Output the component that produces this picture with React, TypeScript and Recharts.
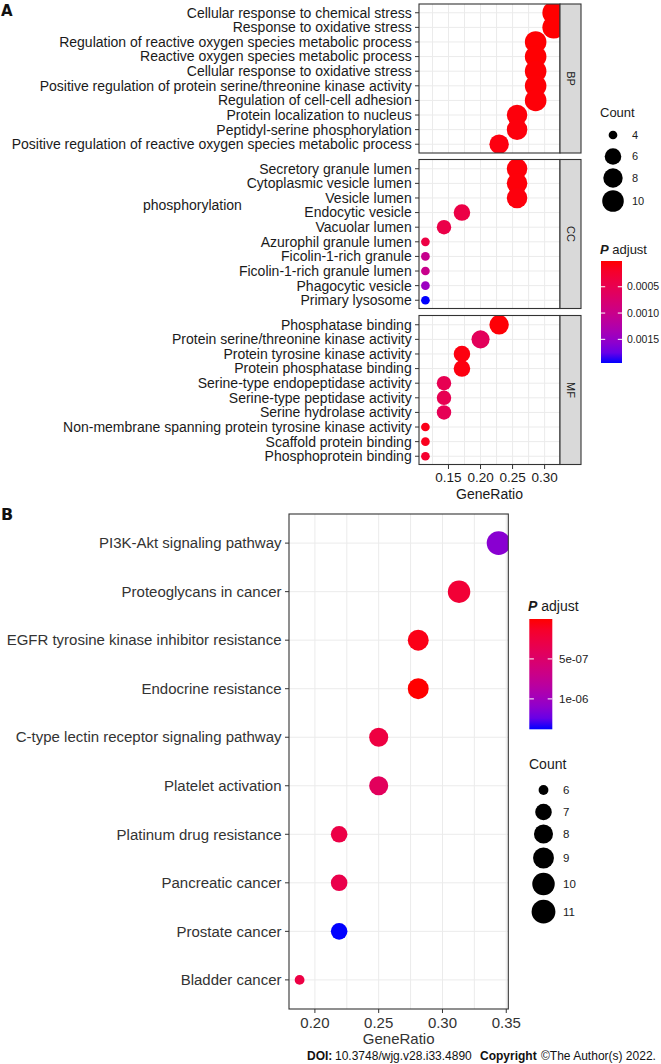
import { CartesianGrid, Scatter, ScatterChart, XAxis, YAxis } from "recharts";

const FONT = '"Liberation Sans", Arial, sans-serif';
const BOLD_FONT = '"DejaVu Sans", Verdana, sans-serif';

// ---------- Panel A: GO enrichment ----------
const bpTerms = [
  "Cellular response to chemical stress",
  "Response to oxidative stress",
  "Regulation of reactive oxygen species metabolic process",
  "Reactive oxygen species metabolic process",
  "Cellular response to oxidative stress",
  "Positive regulation of protein serine/threonine kinase activity",
  "Regulation of cell-cell adhesion",
  "Protein localization to nucleus",
  "Peptidyl-serine phosphorylation",
  "Positive regulation of reactive oxygen species metabolic process",
];
const bpRatio = [0.314, 0.314, 0.286, 0.286, 0.286, 0.286, 0.286, 0.257, 0.257, 0.229];
const bpCount = [11, 11, 10, 10, 10, 10, 10, 9, 9, 8];
const bpPadj = [1.0e-5, 1.2e-5, 2.0e-5, 2.0e-5, 2.5e-5, 3.0e-5, 3.5e-5, 4.5e-5, 5.0e-5, 6.0e-5];

const ccTerms = [
  "Secretory granule lumen",
  "Cytoplasmic vesicle lumen",
  "Vesicle lumen",
  "Endocytic vesicle",
  "Vacuolar lumen",
  "Azurophil granule lumen",
  "Ficolin-1-rich granule",
  "Ficolin-1-rich granule lumen",
  "Phagocytic vesicle",
  "Primary lysosome",
];
const ccRatio = [0.257, 0.257, 0.257, 0.171, 0.143, 0.114, 0.114, 0.114, 0.114, 0.114];
const ccCount = [9, 9, 9, 6, 5, 4, 4, 4, 4, 4];
const ccPadj = [4.0e-5, 4.0e-5, 5.0e-5, 4.2e-4, 4.4e-4, 4.0e-4, 1.02e-3, 1.0e-3, 1.45e-3, 1.95e-3];

const mfTerms = [
  "Phosphatase binding",
  "Protein serine/threonine kinase activity",
  "Protein tyrosine kinase activity",
  "Protein phosphatase binding",
  "Serine-type endopeptidase activity",
  "Serine-type peptidase activity",
  "Serine hydrolase activity",
  "Non-membrane spanning protein tyrosine kinase activity",
  "Scaffold protein binding",
  "Phosphoprotein binding",
];
const mfRatio = [0.229, 0.2, 0.171, 0.171, 0.143, 0.143, 0.143, 0.114, 0.114, 0.114];
const mfCount = [8, 7, 6, 6, 5, 5, 5, 4, 4, 4];
const mfPadj = [3.0e-5, 5.8e-4, 6.0e-5, 6.0e-5, 5.2e-4, 5.2e-4, 5.4e-4, 1.0e-4, 1.3e-4, 2.4e-4];

const goFacetNames = ["BP", "CC", "MF"];
const goXTicks = [0.15, 0.2, 0.25, 0.3];
const goXGrid = [0.125, 0.15, 0.175, 0.2, 0.225, 0.25, 0.275, 0.3];
const goCountBreaks = [4, 6, 8, 10];
const goPadjBreaks = [0.0005, 0.001, 0.0015];
const goPadjLabels = ["0.0005", "0.0010", "0.0015"];

// ---------- Panel B: KEGG enrichment ----------
const keggTerms = [
  "PI3K-Akt signaling pathway",
  "Proteoglycans in cancer",
  "EGFR tyrosine kinase inhibitor resistance",
  "Endocrine resistance",
  "C-type lectin receptor signaling pathway",
  "Platelet activation",
  "Platinum drug resistance",
  "Pancreatic cancer",
  "Prostate cancer",
  "Bladder cancer",
];
const keggRatio = [0.344, 0.313, 0.281, 0.281, 0.25, 0.25, 0.219, 0.219, 0.219, 0.188];
const keggCount = [11, 10, 9, 9, 8, 8, 7, 7, 7, 6];
const keggPadj = [1.12e-6, 2.0e-7, 6.0e-8, 1.0e-9, 2.6e-7, 4.2e-7, 2.9e-7, 3.2e-7, 1.38e-6, 2.8e-7];

const keggXTicks = [0.2, 0.25, 0.3, 0.35];
const keggXGrid = [0.2, 0.225, 0.25, 0.275, 0.3, 0.325, 0.35];
const keggCountBreaks = [6, 7, 8, 9, 10, 11];
const keggPadjBreaks = [5e-7, 1e-6];
const keggPadjLabels = ["5e-07", "1e-06"];

// ---------- layout ----------
const GO_LEFT = 419;
const GO_RIGHT = 560;
const GO_TOPS = [4, 159.5, 315.5];
const GO_H = 149;
const GO_DOMAIN: [number, number] = [0.104, 0.324];

const KG_LEFT = 289;
const KG_RIGHT = 508.3;
const KG_TOP = 514;
const KG_H = 495;
const KG_DOMAIN: [number, number] = [0.1797, 0.3516];

// ---------- scales ----------
type Lab = [number, number, number];

function toLab(r: number, g: number, b: number): Lab {
  const lin = (c: number) => {
    c /= 255;
    return c <= 0.04045 ? c / 12.92 : Math.pow((c + 0.055) / 1.055, 2.4);
  };
  const R = lin(r), G = lin(g), B = lin(b);
  const x = (0.4124 * R + 0.3576 * G + 0.1805 * B) / 0.95047;
  const y = 0.2126 * R + 0.7152 * G + 0.0722 * B;
  const z = (0.0193 * R + 0.1192 * G + 0.9505 * B) / 1.08883;
  const f = (t: number) => (t > 0.008856 ? Math.cbrt(t) : 7.787 * t + 16 / 116);
  return [116 * f(y) - 16, 500 * (f(x) - f(y)), 200 * (f(y) - f(z))];
}

function fromLab([L, a, bb]: Lab) {
  const fy = (L + 16) / 116;
  const fx = fy + a / 500;
  const fz = fy - bb / 200;
  const inv = (t: number) => (t * t * t > 0.008856 ? t * t * t : (t - 16 / 116) / 7.787);
  const x = inv(fx) * 0.95047, y = inv(fy), z = inv(fz) * 1.08883;
  const R = 3.2406 * x - 1.5372 * y - 0.4986 * z;
  const G = -0.9689 * x + 1.8758 * y + 0.0415 * z;
  const B = 0.0557 * x - 0.204 * y + 1.057 * z;
  const g = (c: number) => {
    c = Math.min(1, Math.max(0, c));
    const v = c <= 0.0031308 ? 12.92 * c : 1.055 * Math.pow(c, 1 / 2.4) - 0.055;
    return Math.round(v * 255);
  };
  return `rgb(${g(R)},${g(G)},${g(B)})`;
}

const RED = toLab(255, 0, 0);
const BLUE = toLab(0, 0, 255);

function gradientAt(t: number) {
  const k = Math.min(1, Math.max(0, t));
  return fromLab([
    RED[0] + (BLUE[0] - RED[0]) * k,
    RED[1] + (BLUE[1] - RED[1]) * k,
    RED[2] + (BLUE[2] - RED[2]) * k,
  ]);
}

const goPadjAll = [...bpPadj, ...ccPadj, ...mfPadj];
const GO_P: [number, number] = [Math.min(...goPadjAll), Math.max(...goPadjAll)];
const KG_P: [number, number] = [Math.min(...keggPadj), Math.max(...keggPadj)];

const goColor = (p: number) => gradientAt((p - GO_P[0]) / (GO_P[1] - GO_P[0]));
const kgColor = (p: number) => gradientAt((p - KG_P[0]) / (KG_P[1] - KG_P[0]));

function diameter(c: number, lo: number, hi: number, dMin: number, dMax: number) {
  const t = (c - lo) / (hi - lo);
  return dMin + (dMax - dMin) * Math.pow(Math.max(0, t), 0.45);
}
const goDiam = (c: number) => diameter(c, 4, 11, 8.7, 22.5);
const kgDiam = (c: number) => diameter(c, 6, 11, 9.8, 23.8);

// ---------- chart pieces ----------
type Dot = { term: string; idx: number; ratio: number; count: number; padj: number };

function makeDots(terms: string[], ratio: number[], count: number[], padj: number[]): Dot[] {
  return terms.map((term, idx) => ({ term, idx, ratio: ratio[idx], count: count[idx], padj: padj[idx] }));
}

type PanelProps = {
  dots: Dot[];
  top: number;
  left: number;
  right: number;
  height: number;
  domain: [number, number];
  ticks: number[];
  grid: number[];
  axis?: { height: number; fontSize: number; margin: number; color: string };
  labelSize: number;
  labelColor: string;
  labelMargin: number;
  diam: (c: number) => number;
  color: (p: number) => string;
};

const EXTRA_RIGHT = 30;

function DotPanel(p: PanelProps) {
  const n = p.dots.length;
  const idx = p.dots.map((d) => d.idx);
  const bottom = p.axis ? p.axis.height : 1;
  return (
    <div style={{ position: "absolute", left: 0, top: p.top - 1 }}>
      <ScatterChart
        width={p.right + EXTRA_RIGHT}
        height={p.height + 1 + bottom}
        margin={{ top: 1, right: EXTRA_RIGHT, bottom: p.axis ? 0 : 1, left: 0 }}
      >
        <CartesianGrid stroke="#ebebeb" verticalValues={p.grid} horizontalValues={idx} />
        <XAxis
          type="number"
          dataKey="ratio"
          domain={p.domain}
          allowDataOverflow
          ticks={p.ticks}
          interval={0}
          hide={!p.axis}
          height={p.axis ? p.axis.height : 0}
          axisLine={false}
          tickSize={4}
          tickMargin={p.axis ? p.axis.margin : 2}
          tickLine={{ stroke: "#333333" }}
          tick={{
            fill: p.axis ? p.axis.color : "#333",
            fontSize: p.axis ? p.axis.fontSize : 12,
            fontFamily: FONT,
          }}
          tickFormatter={(v: number) => v.toFixed(2)}
        />
        <YAxis
          type="number"
          dataKey="idx"
          domain={[-0.6, n - 0.4]}
          allowDataOverflow
          reversed
          ticks={idx}
          interval={0}
          width={p.left}
          axisLine={false}
          tickSize={4}
          tickMargin={p.labelMargin}
          tickLine={{ stroke: "#333333" }}
          tick={(t: any) => (
            <text
              x={t.x}
              y={t.y}
              dy="0.35em"
              textAnchor="end"
              fontSize={p.labelSize}
              fill={p.labelColor}
              fontFamily={FONT}
            >
              {p.dots[t.payload.value]?.term}
            </text>
          )}
        />
        <Scatter
          data={p.dots}
          isAnimationActive={false}
          shape={(s: any) => {
            const d: Dot = s.payload ?? s;
            return <circle cx={s.cx} cy={s.cy} r={p.diam(d.count) / 2} fill={p.color(d.padj)} />;
          }}
        />
      </ScatterChart>
    </div>
  );
}

function ColorBar(props: {
  id: string;
  x: number;
  y: number;
  w: number;
  h: number;
  range: [number, number];
  breaks: number[];
  labels: string[];
  fontSize: number;
  labelX: number;
}) {
  const { id, x, y, w, h, range, breaks, labels, fontSize, labelX } = props;
  const stops = Array.from({ length: 11 }, (_, i) => i / 10);
  const tickLen = w / 5;
  return (
    <g>
      <defs>
        <linearGradient id={id} x1="0" y1="0" x2="0" y2="1">
          {stops.map((t) => (
            <stop key={t} offset={t} stopColor={gradientAt(t)} />
          ))}
        </linearGradient>
      </defs>
      <rect x={x} y={y} width={w} height={h} fill={`url(#${id})`} />
      {breaks.map((b, i) => {
        const ty = y + ((b - range[0]) / (range[1] - range[0])) * h;
        return (
          <g key={b}>
            <line x1={x} x2={x + tickLen} y1={ty} y2={ty} stroke="#fff" strokeWidth={1} />
            <line x1={x + w - tickLen} x2={x + w} y1={ty} y2={ty} stroke="#fff" strokeWidth={1} />
            <text x={labelX} y={ty} dy="0.35em" fontSize={fontSize} fontFamily={FONT} fill="#1a1a1a">
              {labels[i]}
            </text>
          </g>
        );
      })}
    </g>
  );
}

const goLegendKeyY = [135, 156.5, 178, 201];
const kgLegendKeyY = [790, 812, 834, 858, 884, 911.7];

export default function App() {
  const goFacets = [
    makeDots(bpTerms, bpRatio, bpCount, bpPadj),
    makeDots(ccTerms, ccRatio, ccCount, ccPadj),
    makeDots(mfTerms, mfRatio, mfCount, mfPadj),
  ];
  const kegg = makeDots(keggTerms, keggRatio, keggCount, keggPadj);

  return (
    <div
      style={{
        position: "absolute",
        left: 0,
        top: 0,
        width: 661,
        height: 1064,
        background: "#fff",
        overflow: "hidden",
        fontFamily: FONT,
      }}
    >
      {goFacets.map((dots, i) => (
        <DotPanel
          key={goFacetNames[i]}
          dots={dots}
          top={GO_TOPS[i]}
          left={GO_LEFT}
          right={GO_RIGHT}
          height={GO_H}
          domain={GO_DOMAIN}
          ticks={goXTicks}
          grid={goXGrid}
          axis={i === 2 ? { height: 36, fontSize: 13.5, margin: 3.8, color: "#1a1a1a" } : undefined}
          labelSize={14}
          labelColor="#1a1a1a"
          labelMargin={3.3}
          diam={goDiam}
          color={goColor}
        />
      ))}

      <DotPanel
        dots={kegg}
        top={KG_TOP}
        left={KG_LEFT}
        right={KG_RIGHT}
        height={KG_H}
        domain={KG_DOMAIN}
        ticks={keggXTicks}
        grid={keggXGrid}
        axis={{ height: 40, fontSize: 15, margin: 4, color: "#333" }}
        labelSize={15}
        labelColor="#333"
        labelMargin={3.5}
        diam={kgDiam}
        color={kgColor}
      />

      <svg
        width={661}
        height={1064}
        style={{ position: "absolute", left: 0, top: 0, pointerEvents: "none" }}
      >
        {/* panel A frame, strips, texts */}
        <text x={1} y={15.5} fontFamily={BOLD_FONT} fontWeight="bold" fontSize={15} fill="#111">
          A
        </text>
        {GO_TOPS.map((top, i) => (
          <g key={goFacetNames[i]}>
            <rect
              x={GO_LEFT}
              y={top}
              width={GO_RIGHT - GO_LEFT}
              height={GO_H}
              fill="none"
              stroke="#333"
              strokeWidth={1.1}
            />
            <rect x={GO_RIGHT} y={top} width={21} height={GO_H} fill="#d9d9d9" stroke="#333" strokeWidth={1.1} />
            <text
              transform={`translate(${GO_RIGHT + 10.5},${top + GO_H / 2}) rotate(90)`}
              textAnchor="middle"
              dy="0.35em"
              fontSize={11}
              fontFamily={FONT}
              fill="#1a1a1a"
            >
              {goFacetNames[i]}
            </text>
          </g>
        ))}
        <text x={143} y={205} dy="0.35em" fontSize={14} fontFamily={FONT} fill="#1a1a1a">
          phosphorylation
        </text>
        <text x={(GO_LEFT + GO_RIGHT) / 2} y={494} dy="0.35em" textAnchor="middle" fontSize={14} fontFamily={FONT} fill="#1a1a1a">
          GeneRatio
        </text>

        {/* panel A legends */}
        <text x={600} y={112.7} dy="0.35em" fontSize={13} fontFamily={FONT} fill="#1a1a1a">
          Count
        </text>
        {goCountBreaks.map((c, i) => (
          <g key={c}>
            <circle cx={613} cy={goLegendKeyY[i]} r={goDiam(c) / 2} fill="#000" />
            <text x={632} y={goLegendKeyY[i]} dy="0.35em" fontSize={11} fontFamily={FONT} fill="#1a1a1a">
              {c}
            </text>
          </g>
        ))}
        <text x={600} y={249} dy="0.35em" fontSize={13} fontFamily={FONT} fill="#1a1a1a">
          <tspan fontWeight="bold" fontStyle="italic">P</tspan> adjust
        </text>
        <ColorBar
          id="goBar"
          x={601}
          y={261}
          w={21}
          h={102}
          range={GO_P}
          breaks={goPadjBreaks}
          labels={goPadjLabels}
          fontSize={10.5}
          labelX={627}
        />

        {/* panel B frame and texts */}
        <text x={1} y={519.5} fontFamily={BOLD_FONT} fontWeight="bold" fontSize={16} fill="#111">
          B
        </text>
        <rect
          x={KG_LEFT}
          y={KG_TOP}
          width={KG_RIGHT - KG_LEFT}
          height={KG_H}
          fill="none"
          stroke="#333"
          strokeWidth={1.1}
        />
        <text x={(KG_LEFT + KG_RIGHT) / 2} y={1039} dy="0.35em" textAnchor="middle" fontSize={15} fontFamily={FONT} fill="#333">
          GeneRatio
        </text>

        {/* panel B legends */}
        <text x={528} y={605.7} dy="0.35em" fontSize={14} fontFamily={FONT} fill="#1a1a1a">
          <tspan fontWeight="bold" fontStyle="italic">P</tspan> adjust
        </text>
        <ColorBar
          id="kgBar"
          x={529.3}
          y={619}
          w={23}
          h={110.3}
          range={KG_P}
          breaks={keggPadjBreaks}
          labels={keggPadjLabels}
          fontSize={11.5}
          labelX={559}
        />
        <text x={529} y={764.3} dy="0.35em" fontSize={14} fontFamily={FONT} fill="#1a1a1a">
          Count
        </text>
        {keggCountBreaks.map((c, i) => (
          <g key={c}>
            <circle cx={543.5} cy={kgLegendKeyY[i]} r={kgDiam(c) / 2} fill="#000" />
            <text x={563} y={kgLegendKeyY[i]} dy="0.35em" fontSize={11.5} fontFamily={FONT} fill="#1a1a1a">
              {c}
            </text>
          </g>
        ))}

        {/* source line */}
        <g fontFamily={FONT} fontSize={12} fill="#111">
          <text x={307} y={1060} fontWeight="bold">
            DOI:
          </text>
          <text x={335} y={1060}>
            10.3748/wjg.v28.i33.4890
          </text>
          <text x={480} y={1060} fontWeight="bold">
            Copyright
          </text>
          <text x={541} y={1060}>
            ©The Author(s) 2022.
          </text>
        </g>
      </svg>
    </div>
  );
}
